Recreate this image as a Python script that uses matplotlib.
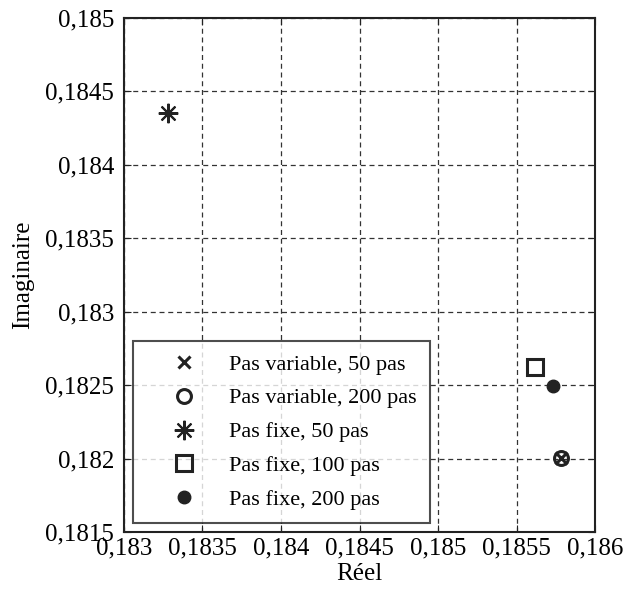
import numpy as np
import matplotlib.pyplot as plt
from matplotlib.ticker import FuncFormatter

plt.rcParams['font.family'] = ['Liberation Serif', 'DejaVu Serif']

# Valeurs propres calculees (partie reelle, partie imaginaire)
var50_re = [0.185781]
var50_im = [0.182007]
var200_re = [0.185781]
var200_im = [0.182007]
fixe50_re = [0.18328]
fixe50_im = [0.18435]
fixe100_re = [0.185616]
fixe100_im = [0.182626]
fixe200_re = [0.185731]
fixe200_im = [0.182495]

labels = ['Pas variable, 50 pas', 'Pas variable, 200 pas', 'Pas fixe, 50 pas',
          'Pas fixe, 100 pas', 'Pas fixe, 200 pas']

xticks = [0.183, 0.1835, 0.184, 0.1845, 0.185, 0.1855, 0.186]
yticks = [0.1815, 0.182, 0.1825, 0.183, 0.1835, 0.184, 0.1845, 0.185]

fig = plt.figure(figsize=(6.32, 5.96), dpi=100)
ax = fig.add_axes([0.196, 0.107, 0.746, 0.863])

k = '#222222'
ax.plot(var50_re, var50_im, 'x', color=k, ms=9, mew=2.2, label=labels[0], zorder=4)
ax.plot(var200_re, var200_im, 'o', color=k, mfc='none', ms=10, mew=2.2, label=labels[1], zorder=4)
ax.plot(fixe50_re, fixe50_im, marker=(8, 2, 0), ls='none', color=k, ms=14, mew=1.5,
        label=labels[2], zorder=4)
ax.plot(fixe100_re, fixe100_im, 's', color=k, mfc='none', ms=12, mew=2.2, label=labels[3], zorder=4)
ax.plot(fixe200_re, fixe200_im, 'o', color=k, ms=9, label=labels[4], zorder=4)

ax.set_xlim(0.183, 0.186)
ax.set_ylim(0.1815, 0.185)
ax.set_xticks(xticks)
ax.set_yticks(yticks)

fmt = FuncFormatter(lambda v, p: ('%g' % v).replace('.', ','))
ax.xaxis.set_major_formatter(fmt)
ax.yaxis.set_major_formatter(fmt)
ax.tick_params(labelsize=18, direction='in', length=5, top=True, right=True, color=k)
ax.tick_params(axis='y', pad=7)

ax.grid(True, linestyle=(0, (4, 3)), color='#333333', linewidth=0.9)
for s in ax.spines.values():
    s.set_linewidth(1.5)
    s.set_color(k)

ax.set_xlabel('Réel', fontsize=18, labelpad=3)
ax.set_ylabel('Imaginaire', fontsize=18, labelpad=8)

leg = ax.legend(loc='lower left', bbox_to_anchor=(0.019, 0.017), fontsize=16,
                frameon=True, fancybox=False, edgecolor=k,
                handlelength=3.4, handletextpad=0.35, borderpad=0.6, labelspacing=0.6,
                borderaxespad=0)
leg.get_frame().set_linewidth(1.5)
leg.set_zorder(5)

fig.savefig('out.png', dpi=100)
